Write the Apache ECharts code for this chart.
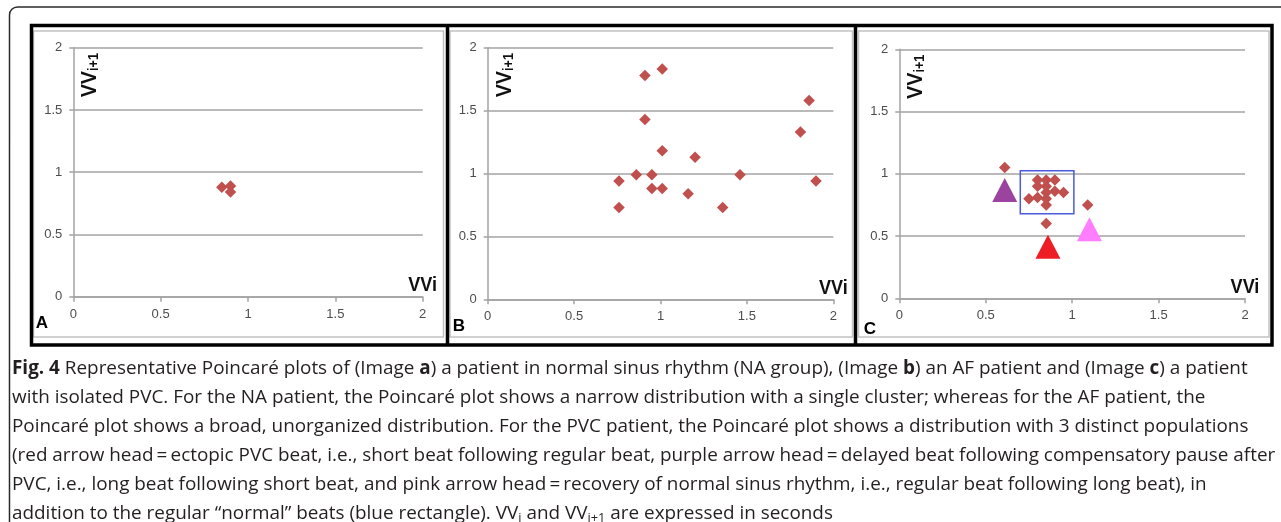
<!DOCTYPE html>
<html>
<head>
<meta charset="utf-8">
<script src="https://cdn.jsdelivr.net/npm/echarts@6/dist/echarts.min.js"></script>
<style>
  html, body { margin: 0; padding: 0; background: #ffffff; }
  #chart { width: 1281px; height: 522px; }
</style>
</head>
<body>
<div id="chart"></div>
<script>
// ---------------- DATA ----------------
const axisTicks = [0, 0.5, 1, 1.5, 2];
const panelLabels = ['A', 'B', 'C'];
const xAxisName = 'VVi';

// Panel A : normal sinus rhythm (narrow cluster)
const aVVi  = [0.85, 0.90, 0.90];
const aVVi1 = [0.88, 0.89, 0.84];

// Panel B : AF patient (broad distribution)
const bVVi  = [0.76, 0.76, 0.86, 0.91, 0.91, 0.95, 0.95, 1.01, 1.01, 1.01, 1.16, 1.20, 1.36, 1.46, 1.81, 1.86, 1.90];
const bVVi1 = [0.94, 0.73, 0.99, 1.78, 1.43, 0.99, 0.88, 1.83, 1.18, 0.88, 0.84, 1.13, 0.73, 0.99, 1.33, 1.58, 0.94];

// Panel C : isolated PVC patient
const cVVi  = [0.61, 0.85, 1.09, 0.80, 0.85, 0.90, 0.80, 0.85, 0.85, 0.90, 0.95, 0.75, 0.80, 0.85, 0.85];
const cVVi1 = [1.05, 0.60, 0.75, 0.95, 0.95, 0.95, 0.90, 0.90, 0.85, 0.86, 0.85, 0.80, 0.81, 0.80, 0.75];

// Arrow heads (purple, red, pink)
const arrowNames = ['purple', 'red', 'pink'];
const arrowVVi  = [0.61, 0.86, 1.10];
const arrowVVi1 = [0.87, 0.415, 0.555];

// Blue rectangle around the "normal" beats
const boxVVi  = [0.70, 1.01];
const boxVVi1 = [0.68, 1.025];

// Caption lines
const captionLines = [
  '{b|Fig. 4} Representative Poincaré plots of (Image {b|a}) a patient in normal sinus rhythm (NA group), (Image {b|b}) an AF patient and (Image {b|c}) a patient',
  'with isolated PVC. For the NA patient, the Poincaré plot shows a narrow distribution with a single cluster; whereas for the AF patient, the',
  'Poincaré plot shows a broad, unorganized distribution. For the PVC patient, the Poincaré plot shows a distribution with 3 distinct populations',
  '(red arrow head\u2009=\u2009ectopic PVC beat, i.e., short beat following regular beat, purple arrow head\u2009=\u2009delayed beat following compensatory pause after',
  'PVC, i.e., long beat following short beat, and pink arrow head\u2009=\u2009recovery of normal sinus rhythm, i.e., regular beat following long beat), in',
  'addition to the regular \u201cnormal\u201d beats (blue rectangle). VV{s|i} and VV{s|i+1} are expressed in seconds'
];

// ---------------- STYLE / LAYOUT ----------------
const DIAMOND = '#c0504d';
const ARROW_COLORS = ['#9b449f', '#ee1c25', '#ff7dff'];
const GRID_COLOR = '#a3a3a3';
const GRIDS = [
  { left: 73.3,  top: 47.7, width: 349.4, height: 249.0 },
  { left: 487.7, top: 47.7, width: 345.6, height: 251.6 },
  { left: 899.3, top: 49.3, width: 345.7, height: 249.0 }
];
const TICK_FONT = '"Liberation Sans", Arial, sans-serif';
const NAME_FONT = '"Liberation Sans", Arial, sans-serif';
const CAP_FONT = '"Open Sans", "Noto Sans", sans-serif';

function zip(xs, ys) { return xs.map((x, i) => [x, ys[i]]); }

// Fit caption font so the longest plain line spans the same width as the reference
function fitCaptionSize() {
  const c = document.createElement('canvas').getContext('2d');
  c.font = '100px ' + CAP_FONT;
  const w = c.measureText(captionLines[3]).width;
  return 100 * 1264 / w;
}
const capSize = fitCaptionSize();

const xAxes = GRIDS.map((g, i) => ({
  type: 'value', gridIndex: i, min: axisTicks[0], max: axisTicks[axisTicks.length - 1], interval: 0.5,
  axisLine: { show: true, lineStyle: { color: GRID_COLOR, width: 1.5 } },
  axisTick: { show: true, length: 5, lineStyle: { color: GRID_COLOR, width: 1.5 } },
  axisLabel: { fontFamily: TICK_FONT, fontSize: 13, color: '#4d4d4d', margin: 11 },
  splitLine: { show: false }
}));
const yAxes = GRIDS.map((g, i) => ({
  type: 'value', gridIndex: i, min: axisTicks[0], max: axisTicks[axisTicks.length - 1], interval: 0.5,
  axisLine: { show: true, lineStyle: { color: GRID_COLOR, width: 1.5 } },
  axisTick: { show: true, length: 4, lineStyle: { color: GRID_COLOR, width: 1.5 } },
  axisLabel: { fontFamily: TICK_FONT, fontSize: 13, color: '#4d4d4d', margin: 11 },
  splitLine: { show: true, lineStyle: { color: GRID_COLOR, width: 1.5 } }
}));

const diamondBase = { type: 'scatter', symbol: 'diamond', symbolSize: 11.5, itemStyle: { color: DIAMOND, opacity: 1 }, emphasis: { disabled: true } };

const series = [
  Object.assign({}, diamondBase, { name: 'A', xAxisIndex: 0, yAxisIndex: 0, data: zip(aVVi, aVVi1) }),
  Object.assign({}, diamondBase, { name: 'B', xAxisIndex: 1, yAxisIndex: 1, data: zip(bVVi, bVVi1) }),
  Object.assign({}, diamondBase, {
    name: 'C', xAxisIndex: 2, yAxisIndex: 2, data: zip(cVVi, cVVi1),
    markArea: {
      silent: true,
      label: { show: false },
      itemStyle: { color: 'rgba(0,0,0,0)', borderColor: '#4b5bdc', borderWidth: 1.5 },
      data: [[{ coord: [boxVVi[0], boxVVi1[1]] }, { coord: [boxVVi[1], boxVVi1[0]] }]]
    }
  }),
  {
    type: 'scatter', name: 'arrows', xAxisIndex: 2, yAxisIndex: 2, symbol: 'triangle', symbolSize: [25, 24], z: 3,
    emphasis: { disabled: true },
    data: arrowVVi.map((x, i) => ({ name: arrowNames[i], value: [x, arrowVVi1[i]], itemStyle: { color: ARROW_COLORS[i], opacity: 1 } }))
  }
];

// ---------------- GRAPHICS (frames, labels, caption) ----------------
const graphics = [];
// outer rounded frame of the figure
graphics.push({ type: 'rect', shape: { x: 9.5, y: 7, width: 1400, height: 700, r: 8 }, style: { fill: null, stroke: '#2a2a2a', lineWidth: 1.5 }, silent: true });
// inner light grey chart-area borders
[[33.5, 443.5], [450, 852.5], [858.5, 1269]].forEach(([x0, x1]) => {
  graphics.push({ type: 'rect', shape: { x: x0, y: 31, width: x1 - x0, height: 306 }, style: { fill: null, stroke: '#c2c2c2', lineWidth: 1.5 }, silent: true });
});
// thick black panel frame and dividers
graphics.push({ type: 'rect', shape: { x: 31.5, y: 25.5, width: 1240.5, height: 319.5 }, style: { fill: null, stroke: '#000', lineWidth: 3.5 }, silent: true });
[447.5, 855.5].forEach(x => {
  graphics.push({ type: 'line', shape: { x1: x, y1: 25.5, x2: x, y2: 345 }, style: { stroke: '#000', lineWidth: 3.5 }, silent: true });
});
// panel letters
const letterPos = [[42, 323.5], [459, 326.5], [870, 329]];
panelLabels.forEach((t, i) => {
  graphics.push({ type: 'text', x: letterPos[i][0], y: letterPos[i][1], silent: true,
    style: { text: t, font: 'bold 17px "Liberation Sans", Arial, sans-serif', fill: '#000', align: 'center', verticalAlign: 'middle' } });
});
GRIDS.forEach(g => {
  // x-axis name "VVi" above the right end of the axis
  graphics.push({ type: 'text', x: g.left + g.width, y: g.top + g.height - 11.5, scaleX: 0.86, silent: true,
    style: { text: xAxisName, font: 'bold 21px ' + NAME_FONT, fill: '#111', align: 'center', verticalAlign: 'middle' } });
  // rotated y-axis name VV(i+1)
  graphics.push({ type: 'text', x: g.left + 16, y: g.top + 27.5, rotation: Math.PI / 2, scaleX: 0.9, silent: true,
    style: { text: '{v|VV}{s|i+1}', align: 'center', verticalAlign: 'middle',
      rich: {
        v: { fontFamily: NAME_FONT, fontWeight: 'bold', fontSize: 22, fill: '#111', verticalAlign: 'bottom', lineHeight: 24 },
        s: { fontFamily: NAME_FONT, fontWeight: 'bold', fontSize: 14, fill: '#111', verticalAlign: 'bottom', lineHeight: 24 }
      } } });
});
// caption
captionLines.forEach((line, i) => {
  graphics.push({ type: 'text', x: 12, y: 368.5 + i * 29.1, silent: true,
    style: { text: line, align: 'left', verticalAlign: 'middle',
      fontFamily: CAP_FONT, fontSize: capSize, fill: '#231f20',
      rich: {
        n: { fontFamily: CAP_FONT, fontSize: capSize, fill: '#231f20', lineHeight: 22 },
        b: { fontFamily: CAP_FONT, fontSize: capSize, fontWeight: 'bold', fill: '#231f20', lineHeight: 22 },
        s: { fontFamily: CAP_FONT, fontSize: capSize * 0.68, fill: '#231f20', verticalAlign: 'bottom', lineHeight: 22 }
      } } });
});

const chart = echarts.init(document.getElementById('chart'), null, { renderer: 'canvas' });
chart.setOption({
  backgroundColor: '#ffffff',
  animation: false,
  grid: GRIDS.map(g => Object.assign({ containLabel: false }, g)),
  xAxis: xAxes,
  yAxis: yAxes,
  series: series,
  graphic: graphics
});
</script>
</body>
</html>
